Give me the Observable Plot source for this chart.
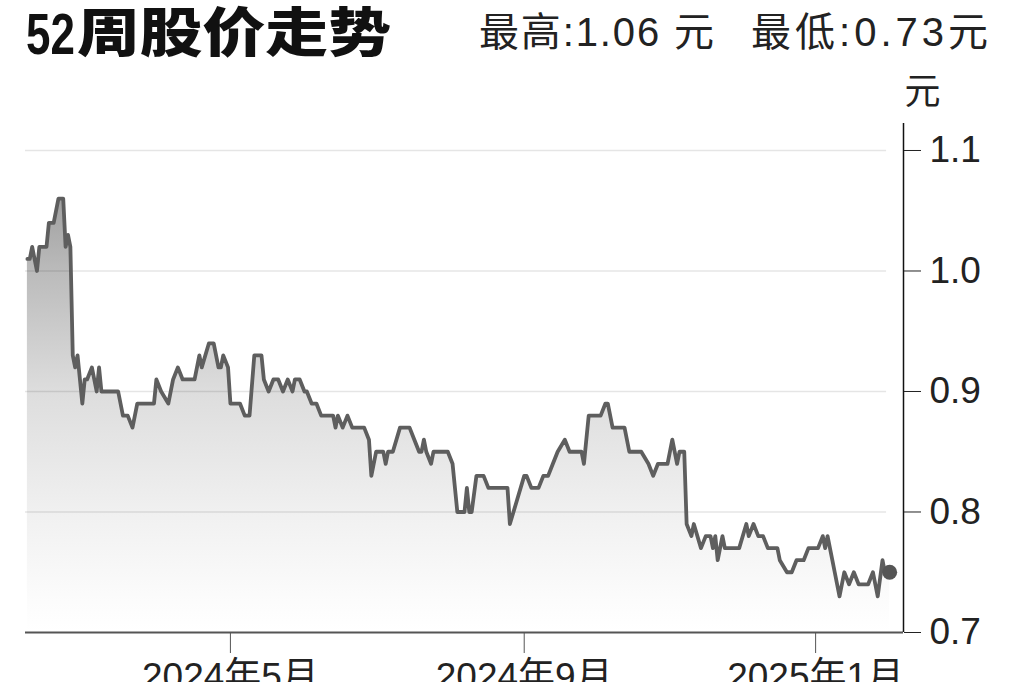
<!DOCTYPE html>
<html>
<head>
<meta charset="utf-8">
<script src="https://cdn.jsdelivr.net/npm/d3@7"></script>
<script src="https://cdn.jsdelivr.net/npm/@observablehq/plot@0.6"></script>
<style>
  html, body { margin: 0; padding: 0; background: #fff; }
  #wrap { position: relative; width: 1024px; height: 682px; overflow: hidden; background: #fff; }
  #chart { position: absolute; left: 0; top: 60px; }
  #head { position: absolute; left: 0; top: 0; overflow: visible; }
</style>
</head>
<body>
<div id="wrap">
  <div id="chart"></div>
  <svg id="head" width="1024" height="80" xmlns="http://www.w3.org/2000/svg">
    <text transform="translate(26,54) scale(0.77,1)" font-family="Liberation Sans, Arial, sans-serif" font-weight="700" font-size="57" fill="#111">52</text>
    <text transform="translate(77,52) scale(1.185,1)" font-family="Noto Sans CJK SC, sans-serif" font-weight="900" font-size="53" fill="#111">周股价走势</text>
    <text x="479" y="46" font-family="Liberation Sans, Noto Sans CJK SC, sans-serif" font-weight="400" font-size="40" textLength="235" lengthAdjust="spacing" fill="#222">最高:1.06 元</text>
    <text x="751" y="46" font-family="Liberation Sans, Noto Sans CJK SC, sans-serif" font-weight="400" font-size="40" textLength="237" lengthAdjust="spacing" fill="#222">最低:0.73元</text>
  </svg>
</div>
<script>
const dates = [
"2024-02-06","2024-02-07","2024-02-08","2024-02-10","2024-02-11","2024-02-14","2024-02-15","2024-02-17","2024-02-19","2024-02-21","2024-02-22","2024-02-23","2024-02-24","2024-02-25","2024-02-26","2024-02-27","2024-02-29",
"2024-03-01","2024-03-02","2024-03-04","2024-03-06","2024-03-07","2024-03-08","2024-03-15","2024-03-17","2024-03-19","2024-03-21","2024-03-23","2024-03-30","2024-03-31",
"2024-04-02","2024-04-05","2024-04-07","2024-04-09","2024-04-11","2024-04-16","2024-04-18","2024-04-19","2024-04-22","2024-04-24","2024-04-26","2024-04-27","2024-04-28","2024-04-30",
"2024-05-01","2024-05-05","2024-05-07","2024-05-09","2024-05-11","2024-05-14","2024-05-15","2024-05-17","2024-05-19","2024-05-21","2024-05-23","2024-05-25","2024-05-27","2024-05-28","2024-05-30",
"2024-06-01","2024-06-02","2024-06-04","2024-06-06","2024-06-08","2024-06-13","2024-06-14","2024-06-15","2024-06-17","2024-06-19","2024-06-21","2024-06-26","2024-06-28","2024-06-29",
"2024-07-01","2024-07-04","2024-07-05","2024-07-06","2024-07-08","2024-07-11","2024-07-15","2024-07-17","2024-07-19","2024-07-20","2024-07-21","2024-07-22","2024-07-24","2024-07-25","2024-07-31",
"2024-08-02","2024-08-03","2024-08-04","2024-08-07","2024-08-08","2024-08-09","2024-08-10","2024-08-12","2024-08-15","2024-08-17","2024-08-25","2024-08-26","2024-08-29",
"2024-09-01","2024-09-02","2024-09-04","2024-09-07","2024-09-09","2024-09-11","2024-09-13","2024-09-15","2024-09-18","2024-09-20","2024-09-25","2024-09-26","2024-09-28",
"2024-10-03","2024-10-05","2024-10-06","2024-10-08","2024-10-13","2024-10-15","2024-10-20","2024-10-23","2024-10-25","2024-10-27","2024-10-31",
"2024-11-02","2024-11-04","2024-11-05","2024-11-07","2024-11-08","2024-11-10","2024-11-11","2024-11-14","2024-11-16","2024-11-18","2024-11-19","2024-11-20","2024-11-21","2024-11-23","2024-11-24","2024-11-30",
"2024-12-03","2024-12-04","2024-12-06","2024-12-08","2024-12-10","2024-12-12","2024-12-16","2024-12-17","2024-12-20","2024-12-22","2024-12-24","2024-12-27","2024-12-29",
"2025-01-02","2025-01-04","2025-01-05","2025-01-06","2025-01-08","2025-01-09","2025-01-11","2025-01-13","2025-01-15","2025-01-17","2025-01-19","2025-01-23","2025-01-25","2025-01-26","2025-01-27","2025-01-29","2025-01-30","2025-02-01"
];
const prices = [
1.01,1.01,1.02,1.00,1.02,1.02,1.04,1.04,1.06,1.06,1.02,1.03,1.02,0.93,0.92,0.93,0.89,
0.91,0.91,0.92,0.90,0.92,0.90,0.90,0.88,0.88,0.87,0.89,0.89,0.91,
0.90,0.89,0.91,0.92,0.91,0.91,0.93,0.92,0.94,0.94,0.92,0.92,0.93,0.92,
0.89,0.89,0.88,0.88,0.93,0.93,0.91,0.90,0.91,0.91,0.90,0.91,0.90,0.91,0.91,
0.90,0.90,0.89,0.89,0.88,0.88,0.87,0.88,0.87,0.88,0.87,0.87,0.86,0.83,
0.85,0.85,0.84,0.85,0.85,0.87,0.87,0.86,0.85,0.85,0.86,0.85,0.84,0.85,0.85,
0.84,0.82,0.80,0.80,0.82,0.80,0.80,0.83,0.83,0.82,0.82,0.79,0.81,
0.83,0.83,0.82,0.82,0.83,0.83,0.84,0.85,0.86,0.85,0.85,0.84,0.88,
0.88,0.89,0.89,0.87,0.87,0.85,0.85,0.84,0.83,0.84,0.84,
0.86,0.84,0.85,0.85,0.79,0.78,0.79,0.77,0.78,0.78,0.77,0.78,0.76,0.78,0.77,0.77,
0.79,0.78,0.79,0.78,0.78,0.77,0.77,0.76,0.75,0.75,0.76,0.76,0.77,
0.77,0.78,0.77,0.78,0.76,0.75,0.73,0.75,0.74,0.75,0.74,0.74,0.75,0.74,0.73,0.76,0.75,0.75
];
const yTicks = [0.7, 0.8, 0.9, 1.0, 1.1];
const gridValues = [0.8, 0.9, 1.0, 1.1];
const xTickDates = ["2024-05-01", "2024-09-01", "2025-01-01"];
const xTickLabels = ["2024年5月", "2024年9月", "2025年1月"];
const xDomain = ["2024-02-05T05:00:00Z", "2025-02-06T19:00:00Z"];
const gridEnd = "2025-01-30T17:00:00Z";
const yDomain = [0.7, 1.1224];
const unitLabel = "元";

const data = dates.map((d, i) => ({date: new Date(d), price: prices[i]}));
const x0 = new Date(xDomain[0]), x1 = new Date(xDomain[1]);

const gradientDefs = () => {
  const defs = d3.create("svg:defs");
  const g = defs.append("linearGradient").attr("id", "areaGrad")
    .attr("x1", 0).attr("y1", 0).attr("x2", 0).attr("y2", 1);
  [[0, "#a0a0a0"], [0.17, "#bbbbbb"], [0.445, "#dddddd"], [0.72, "#f0f0f0"], [0.93, "#fcfcfc"], [1, "#ffffff"]]
    .forEach(([o, c]) => g.append("stop").attr("offset", o).attr("stop-color", c));
  return defs.node();
};

const chart = Plot.plot({
  width: 1024,
  height: 640,
  marginLeft: 25,
  marginRight: 121,
  marginTop: 63,
  marginBottom: 68,
  style: {fontFamily: '"Liberation Sans", "Noto Sans CJK SC", sans-serif', background: "transparent", overflow: "visible"},
  x: {type: "utc", domain: [x0, x1]},
  y: {domain: yDomain},
  marks: [
    gradientDefs,
    Plot.areaY(data, {x: "date", y1: 0.7, y2: "price", fill: "url(#areaGrad)"}),
    Plot.ruleY(gridValues, {x1: x0, x2: new Date(gridEnd), stroke: "#000", strokeOpacity: 0.1, strokeWidth: 1.5}),
    Plot.lineY(data, {x: "date", y: "price", stroke: "#5e5e5e", strokeWidth: 3.8, strokeLinejoin: "round"}),
    Plot.dot(data.slice(-1), {x: "date", y: "price", r: 7.5, fill: "#555"}),
    Plot.ruleY([0.7], {stroke: "#555", strokeWidth: 2}),
    Plot.ruleX([x1], {y1: yDomain[0], y2: yDomain[1], stroke: "#111", strokeWidth: 1.5}),
    Plot.axisY({anchor: "right", ticks: yTicks, tickFormat: d3.format(".1f"), tickSize: 17, tickPadding: 9, fontSize: 37, stroke: "#222", fill: "#222", label: null}),
    Plot.axisX({ticks: xTickDates.map(d => new Date(d)), tickFormat: (d, i) => xTickLabels[i], tickSize: 21, tickPadding: 9, fontSize: 37, stroke: "#555", fill: "#222", label: null}),
    Plot.text([unitLabel], {frameAnchor: "top-right", dx: 19, dy: -45, fontSize: 36, textAnchor: "middle", fill: "#222"})
  ]
});
document.getElementById("chart").appendChild(chart);
</script>
</body>
</html>
